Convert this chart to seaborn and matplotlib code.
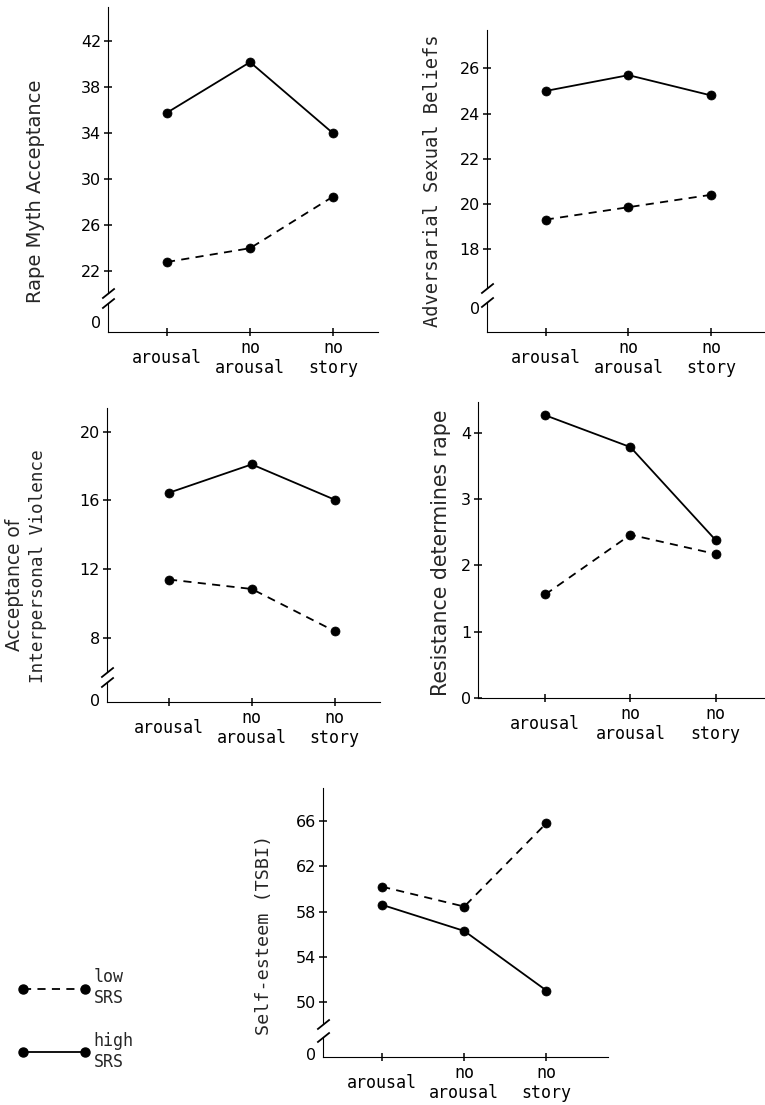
import matplotlib
matplotlib.use("Agg")
import matplotlib.pyplot as plt
from matplotlib.lines import Line2D
import pandas as pd
import seaborn as sns

# Reference is a scanned 3+2 panel figure (broken y axes, black lines)
W, H = 765, 1105

conditions = ["arousal", "no arousal", "no story"]
tick_labels = ["arousal", "no\narousal", "no\nstory"]
groups = ["low SRS", "high SRS"]

# Values
rma_low = [22.8, 24.0, 28.5]
rma_high = [35.8, 40.2, 34.0]
asb_low = [19.3, 19.85, 20.4]
asb_high = [25.0, 25.7, 24.8]
aiv_low = [11.4, 10.85, 8.4]
aiv_high = [16.45, 18.1, 16.05]
rdr_low = [1.56, 2.46, 2.17]
rdr_high = [4.26, 3.78, 2.38]
se_low = [60.2, 58.45, 65.8]
se_high = [58.6, 56.3, 51.05]

SANS = "DejaVu Sans"
MONO = "DejaVu Sans Mono"

sns.set_style("ticks", {"axes.edgecolor": "black", "xtick.color": "black",
                        "ytick.color": "black", "axes.linewidth": 1.3})
plt.rcParams["font.family"] = [SANS]

LINE = dict(color="black", lw=1.3, markersize=6.5, markeredgecolor="black",
            markeredgewidth=0.5)
STYLE_DASHES = {"low SRS": (4.5, 3.5), "high SRS": ""}
STYLE_MARKERS = {"low SRS": "o", "high SRS": "o"}


def px_rect(left, right, top, bottom):
    return [left / W, 1 - bottom / H, (right - left) / W, (bottom - top) / H]


def make_df(low, high):
    rows = []
    for g, vals in zip(groups, [low, high]):
        for c, v in zip(conditions, vals):
            rows.append({"condition": c, "value": v, "group": g})
    return pd.DataFrame(rows)


def draw_lines(ax, low, high):
    sns.lineplot(data=make_df(low, high), x="condition", y="value",
                 style="group", style_order=groups, dashes=STYLE_DASHES,
                 markers=STYLE_MARKERS, legend=False, ax=ax, **LINE)
    ax.set_xlabel("")
    ax.set_ylabel("")


def style_y(ax, ticks):
    ax.set_yticks(ticks)
    ax.set_yticklabels([str(t) for t in ticks], fontfamily=SANS, fontsize=11.5)
    ax.tick_params(axis="y", direction="inout", length=6, width=1.1, pad=2)


def style_x(ax, xlim):
    ax.set_xlim(*xlim)
    ax.set_xticks(range(len(conditions)))
    ax.set_xticklabels(tick_labels, fontfamily=MONO, fontsize=12,
                       va="center", linespacing=1.15)
    ax.tick_params(axis="x", direction="inout", length=6, width=1.1, pad=15.5)


def slash(ax, y):
    ax.plot([0], [y], transform=ax.transAxes, marker=[(-1, -0.8), (1, 0.8)],
            markersize=9, linestyle="none", color="black", mec="black",
            mew=1.3, clip_on=False)


def broken_panel(fig, low, high, left, right, top, brk, low_top, axis_y,
                 xlim, ylim, yticks, zero_frac):
    main = fig.add_axes(px_rect(left, right, top, brk))
    draw_lines(main, low, high)
    main.set_xlim(*xlim)
    main.set_ylim(*ylim)
    main.set_xticks([])
    style_y(main, yticks)
    for s in ["top", "right", "bottom"]:
        main.spines[s].set_visible(False)
    slash(main, 0)

    base = fig.add_axes(px_rect(left, right, low_top, axis_y))
    base.set_ylim(0, 1)
    base.set_yticks([zero_frac])
    base.set_yticklabels(["0"], fontfamily=SANS, fontsize=11.5)
    base.tick_params(axis="y", length=0, pad=5)
    for s in ["top", "right"]:
        base.spines[s].set_visible(False)
    style_x(base, xlim)
    slash(base, 1)
    base.patch.set_alpha(0)
    return main, base


fig = plt.figure(figsize=(W / 100, H / 100), dpi=100)

# Rape Myth Acceptance
broken_panel(fig, rma_low, rma_high, 108, 378, 7, 293, 303, 332,
             (-0.71, 2.54), (20.1, 45.0), [22, 26, 30, 34, 38, 42], 0.35)
fig.text(36 / W, 1 - 191 / H, "Rape Myth Acceptance", rotation=90,
         ha="center", va="center", fontfamily=SANS, fontsize=14)

# Adversarial Sexual Beliefs
broken_panel(fig, asb_low, asb_high, 487, 765, 30, 288, 302, 332,
             (-0.71, 2.65), (16.27, 27.7), [18, 20, 22, 24, 26], 0.8)
fig.text(433 / W, 1 - 181 / H, "Adversarial Sexual Beliefs", rotation=90,
         ha="center", va="center", fontfamily=MONO, fontsize=13.5)

# Acceptance of Interpersonal Violence
broken_panel(fig, aiv_low, aiv_high, 107, 380, 408, 672, 682, 702,
             (-0.75, 2.55), (6.02, 21.38), [8, 12, 16, 20], 0.1)
fig.text(15 / W, 1 - 585 / H, "Acceptance of", rotation=90,
         ha="center", va="center", fontfamily=SANS, fontsize=13.4)
fig.text(38 / W, 1 - 566 / H, "Interpersonal Violence", rotation=90,
         ha="center", va="center", fontfamily=MONO, fontsize=12.7)

# Resistance determines rape (no break)
ax4 = fig.add_axes(px_rect(478, 765, 402, 698))
draw_lines(ax4, rdr_low, rdr_high)
ax4.set_ylim(0, 4.46)
style_y(ax4, [0, 1, 2, 3, 4])
for s in ["top", "right"]:
    ax4.spines[s].set_visible(False)
style_x(ax4, (-0.79, 2.58))
fig.text(441 / W, 1 - 553 / H, "Resistance determines rape", rotation=90,
         ha="center", va="center", fontfamily=SANS, fontsize=14.8)

# Self-esteem (TSBI)
broken_panel(fig, se_low, se_high, 323, 608, 788, 1024, 1037, 1057,
             (-0.72, 2.75), (48.1, 68.9), [50, 54, 58, 62, 66], 0.15)
fig.text(264 / W, 1 - 935 / H, "Self-esteem (TSBI)", rotation=90,
         ha="center", va="center", fontfamily=MONO, fontsize=13.2)

# legend, bottom left
handles = [Line2D([], [], color="black", lw=1.3, dashes=STYLE_DASHES["low SRS"],
                  marker="o", markersize=6.5),
           Line2D([], [], color="black", lw=1.3, marker="o", markersize=6.5)]
fig.legend(handles, ["low\nSRS", "high\nSRS"], loc="upper left",
           bbox_to_anchor=(18 / W, 1 - 968 / H), frameon=False, numpoints=2,
           handlelength=4.3, handletextpad=0.25, labelspacing=1.5,
           borderpad=0, borderaxespad=0,
           prop={"family": MONO, "size": 12})

fig.savefig("out.png", dpi=100)
